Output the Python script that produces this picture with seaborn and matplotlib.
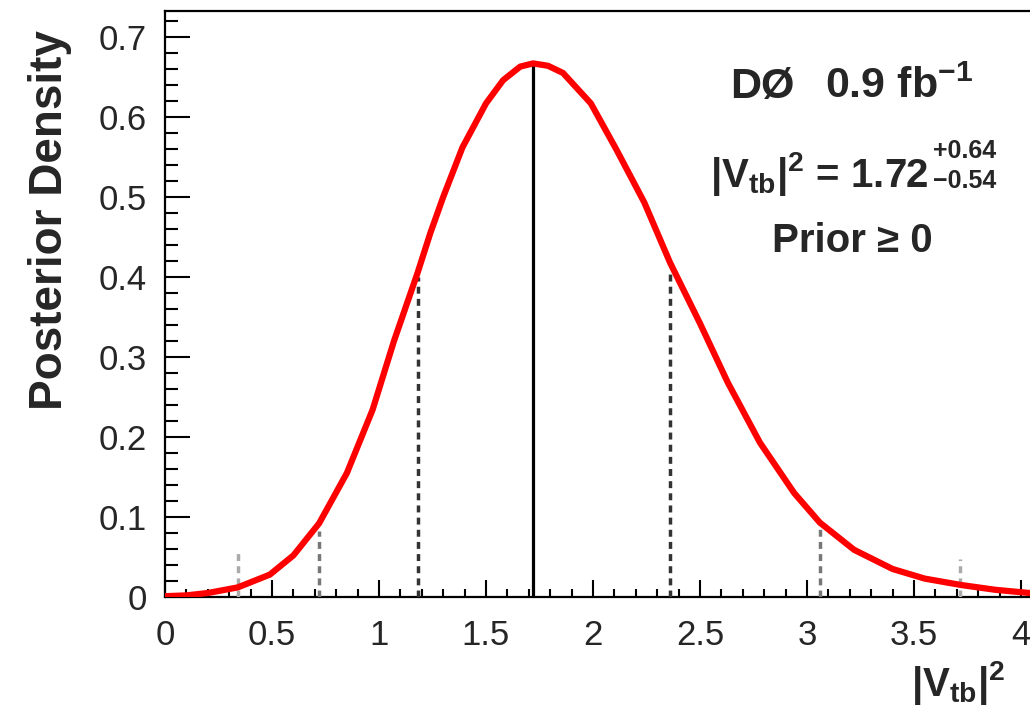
import matplotlib
matplotlib.use("Agg")
import matplotlib.pyplot as plt
from matplotlib.ticker import MultipleLocator
import seaborn as sns

# ---- data ----
curve_x = [0.0, 0.10, 0.20, 0.34, 0.49, 0.60, 0.72, 0.85, 0.97, 1.07, 1.18, 1.24,
           1.30, 1.39, 1.50, 1.58, 1.66, 1.72, 1.79, 1.86, 1.99, 2.11, 2.24, 2.36,
           2.50, 2.63, 2.78, 2.94, 3.06, 3.22, 3.40, 3.55, 3.72, 3.88, 4.04]
curve_y = [0.001, 0.002, 0.005, 0.012, 0.028, 0.052, 0.092, 0.155, 0.234, 0.320,
           0.405, 0.455, 0.500, 0.562, 0.617, 0.646, 0.663, 0.667, 0.664, 0.655,
           0.617, 0.559, 0.493, 0.418, 0.342, 0.268, 0.193, 0.130, 0.093, 0.059,
           0.035, 0.023, 0.015, 0.009, 0.005]

mode_x = [1.72]
mode_h = [0.667]
sigma1_x = [1.18, 2.36]
sigma1_h = [0.400, 0.410]
sigma2_x = [0.72, 3.06]
sigma2_h = [0.082, 0.088]
sigma3_x = [0.34, 3.715]
sigma3_h = [0.055, 0.048]

x_ticks = [0, 0.5, 1, 1.5, 2, 2.5, 3, 3.5, 4]
x_ticklabels = ["0", "0.5", "1", "1.5", "2", "2.5", "3", "3.5", "4"]
y_ticks = [0, 0.1, 0.2, 0.3, 0.4, 0.5, 0.6, 0.7]
y_ticklabels = ["0", "0.1", "0.2", "0.3", "0.4", "0.5", "0.6", "0.7"]

# ---- style ----
sns.set_style("ticks")
plt.rcParams["font.family"] = ["Liberation Sans", "DejaVu Sans"]
plt.rcParams["mathtext.fontset"] = "custom"
plt.rcParams["mathtext.rm"] = "Liberation Sans"
plt.rcParams["mathtext.bf"] = "Liberation Sans:bold"
plt.rcParams["mathtext.it"] = "Liberation Sans:italic"

W, H = 1030, 713
fig = plt.figure(figsize=(W / 100, H / 100), dpi=100)
ax = fig.add_axes([165 / W, 1 - 597 / H, (W - 165) / W, (597 - 11) / H])

sns.lineplot(x=curve_x, y=curve_y, ax=ax, color="#ff0000", linewidth=4.5,
             sort=False, zorder=5, solid_joinstyle="round", solid_capstyle="round")

ax.vlines(mode_x, 0, mode_h, colors="black", linewidth=2.3, zorder=4)
for xs, hs, col in [(sigma1_x, sigma1_h, "#333333"),
                    (sigma2_x, sigma2_h, "#777777"),
                    (sigma3_x, sigma3_h, "#aaaaaa")]:
    ax.vlines(xs, 0, hs, colors=col, linewidth=2.5, linestyles=(0, (2.0, 1.5)),
              zorder=3)

ax.set_xlim(0, (W - 165) / 214)
ax.set_ylim(0, (597 - 11) / 800)

ax.set_xticks(x_ticks)
ax.set_xticklabels(x_ticklabels)
ax.set_yticks(y_ticks)
ax.set_yticklabels(y_ticklabels)
ax.xaxis.set_minor_locator(MultipleLocator(0.1))
ax.yaxis.set_minor_locator(MultipleLocator(0.02))

ax.tick_params(axis="both", which="both", direction="in", width=1.5,
               color="black", labelsize=25)
ax.tick_params(axis="x", which="major", length=12.5, pad=16)
ax.tick_params(axis="x", which="minor", length=6)
ax.tick_params(axis="y", which="major", length=18, pad=13)
ax.tick_params(axis="y", which="minor", length=9)

for s in ["left", "bottom", "top"]:
    ax.spines[s].set_linewidth(1.6)
    ax.spines[s].set_color("black")
ax.spines["right"].set_visible(False)

ax.set_ylabel("Posterior Density", fontsize=33, fontweight="bold", loc="top")
ax.yaxis.set_label_coords(-0.107, 0.968)
ax.set_xlabel(r"$\mathbf{|V_{tb}|^{2}}$", fontsize=29, loc="right")
ax.xaxis.set_label_coords(0.972, -0.106)

def ftext(px, py, s, **kw):
    fig.text(px / W, 1 - py / H, s, va="baseline", fontweight="bold", **kw)

ftext(730, 98, "DØ", fontsize=31, ha="left")
ftext(825, 98, r"0.9 fb$^{\mathbf{-1}}$", fontsize=31, ha="left")
ftext(710, 187, r"|V$_{\mathbf{tb}}$|$^{\mathbf{2}}$ = 1.72", fontsize=29, ha="left")
ftext(996, 158, "+0.64", fontsize=18, ha="right")
ftext(996, 188, "\u22120.54", fontsize=18, ha="right")
ftext(772, 252, "Prior \u2265 0", fontsize=29, ha="left")

fig.savefig("out.png", dpi=100)
